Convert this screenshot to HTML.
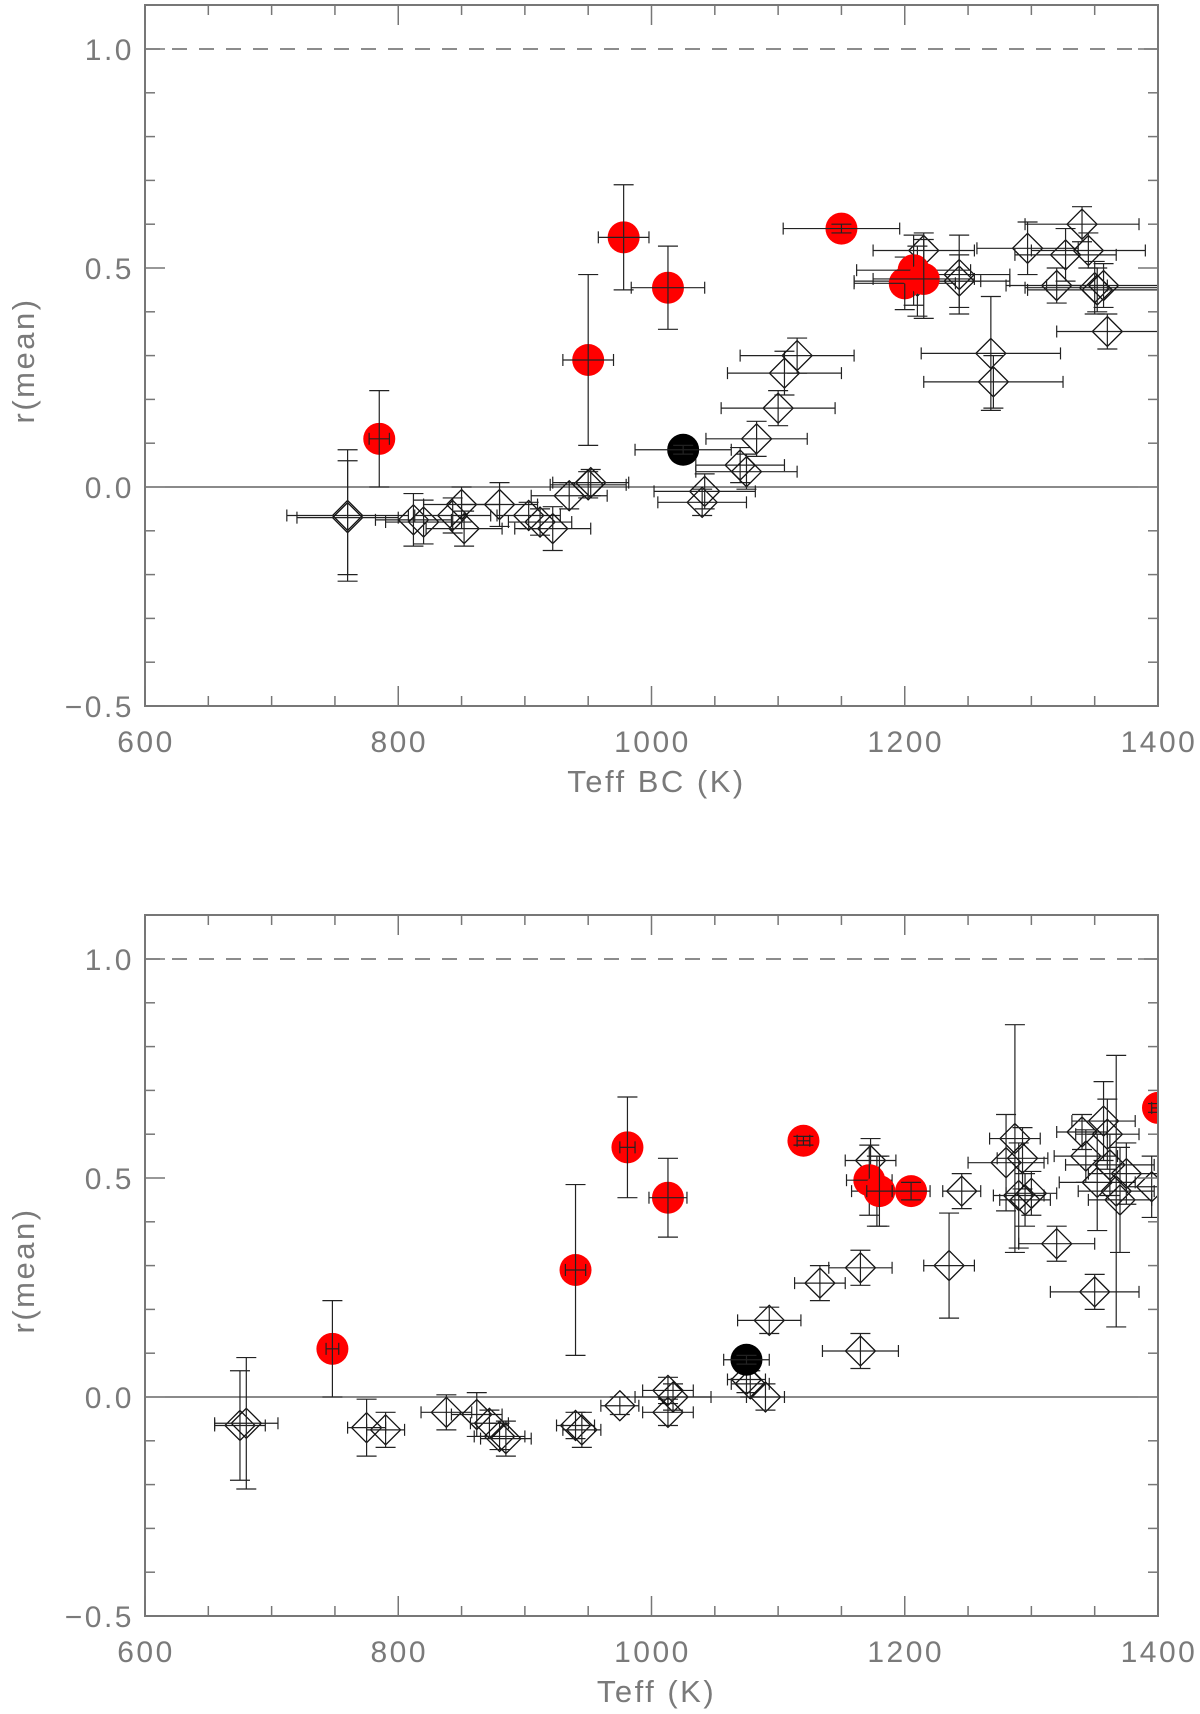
<!DOCTYPE html>
<html><head><meta charset="utf-8"><style>
html,body{margin:0;padding:0;background:#fff}
svg{display:block}
text{font-family:"Liberation Sans",sans-serif;fill:#7a7a7a;letter-spacing:2.5px}
</style></head><body>
<svg id="fig" width="1200" height="1714" viewBox="0 0 1200 1714"></svg>
<script>
// ---- data: top panel (Teff BC) ----
const topRedX=[785,950,978,1013,1150,1200,1207,1215];
const topRedY=[0.11,0.29,0.57,0.455,0.59,0.465,0.495,0.475];
const topRedXe=[8,20,20,29,46,40,45,40];
const topRedYe=[0.11,0.195,0.12,0.095,0.01,0.06,0.08,0.09];
const topBlkX=[1025];const topBlkY=[0.085];const topBlkXe=[38];const topBlkYe=[0.01];
const topDiaX=[760,760,812,820,843,850,852,880,903,912,922,935,950,952,1040,1042,1070,1075,1083,1100,1105,1115,1215,1210,1243,1243,1268,1270,1297,1320,1327,1340,1345,1350,1352,1360,1357];
const topDiaY=[-0.065,-0.07,-0.075,-0.08,-0.065,-0.04,-0.095,-0.04,-0.065,-0.08,-0.095,-0.02,0.005,0.01,-0.035,-0.01,0.05,0.035,0.11,0.18,0.26,0.30,0.54,0.47,0.485,0.47,0.305,0.24,0.545,0.46,0.53,0.60,0.54,0.455,0.45,0.355,0.46];
const topDiaXe=[48,40,30,30,30,30,30,30,25,25,30,30,30,30,35,40,35,40,40,45,45,45,40,50,40,40,55,55,40,40,40,45,45,55,55,40,45];
const topDiaYe=[0.15,0.13,0.06,0.05,0.04,0.04,0.04,0.05,0.03,0.03,0.05,0.03,0.03,0.03,0.03,0.04,0.04,0.04,0.04,0.04,0.05,0.04,0.04,0.08,0.09,0.06,0.13,0.06,0.06,0.04,0.06,0.04,0.04,0.06,0.05,0.04,0.05];
// ---- data: bottom panel (Teff) ----
const botRedX=[748,940,981,1013,1120,1172,1180,1205,1400];
const botRedY=[0.11,0.29,0.57,0.455,0.585,0.495,0.47,0.47,0.66];
const botRedXe=[5,8,6,15,5,18,10,15,5];
const botRedYe=[0.11,0.195,0.115,0.09,0.01,0.08,0.08,0.02,0.01];
const botBlkX=[1075];const botBlkY=[0.085];const botBlkXe=[18];const botBlkYe=[0.01];
const botDiaX=[675,680,775,790,838,862,872,880,885,940,945,975,1013,1013,1017,1075,1078,1090,1093,1133,1165,1165,1173,1178,1235,1245,1280,1287,1290,1293,1295,1300,1320,1340,1343,1350,1352,1357,1360,1362,1367,1370,1375,1395];
const botDiaY=[-0.065,-0.06,-0.07,-0.075,-0.035,-0.04,-0.06,-0.09,-0.095,-0.065,-0.075,-0.02,0.015,-0.035,0.0,0.04,0.03,0.0,0.175,0.26,0.295,0.105,0.54,0.47,0.30,0.47,0.535,0.59,0.46,0.545,0.45,0.465,0.35,0.605,0.55,0.24,0.49,0.63,0.60,0.53,0.47,0.45,0.51,0.48];
const botDiaXe=[20,25,15,15,20,20,15,20,20,15,15,15,20,20,30,15,15,15,25,20,25,30,20,20,20,15,30,20,20,20,20,20,30,20,25,35,30,25,25,35,30,25,30,20];
const botDiaYe=[0.125,0.15,0.065,0.04,0.04,0.05,0.03,0.03,0.04,0.03,0.04,0.02,0.03,0.03,0.03,0.03,0.03,0.03,0.03,0.04,0.04,0.04,0.05,0.08,0.12,0.04,0.11,0.26,0.12,0.07,0.06,0.05,0.04,0.04,0.06,0.04,0.11,0.09,0.08,0.07,0.31,0.12,0.07,0.07];
const xTicks=[600,800,1000,1200,1400];
const yTicks=[-0.5,0.0,0.5,1.0];
const yTickLabels=["\u22120.5","0.0","0.5","1.0"];

const NS="http://www.w3.org/2000/svg";
const svg=document.getElementById('fig');
function mk(tag,attrs,parent){const e=document.createElementNS(NS,tag);for(const k in attrs)e.setAttribute(k,attrs[k]);(parent||svg).appendChild(e);return e;}

function panel(cfg){
  const L=145,R=1158,top=cfg.top,y1=cfg.y1,per=438;
  const bottom=y1+1.5*per;
  const X=v=>L+(v-600)*(R-L)/800;
  const Y=v=>y1-(v-1)*per;
  const g=mk('g',{});
  
  
  const cid='clip'+cfg.name;
  const cp=mk('clipPath',{id:cid},g);mk('rect',{x:L,y:top,width:R-L,height:bottom-top},cp);
  const zl=mk('line',{x1:L,x2:R,y1:Y(0),y2:Y(0),stroke:'#444','stroke-width':1.2},g);
  
  const dl=mk('line',{x1:L,x2:R,y1:Y(1),y2:Y(1),stroke:'#666','stroke-width':1.5,'stroke-dasharray':'15,12'},g);
  
  const data=mk('g',{'clip-path':'url(#'+cid+')'},g);
  
  function err(x,y,xe,ye){
    const gg=mk('g',{stroke:'#222','stroke-width':1.2,fill:'none'},data);
    
    const cx=X(x),cy=Y(y),dx=xe*(R-L)/800,dy=ye*per;
    mk('line',{x1:cx-dx,x2:cx+dx,y1:cy,y2:cy},gg);
    mk('line',{x1:cx-dx,x2:cx-dx,y1:cy-6,y2:cy+6},gg);
    mk('line',{x1:cx+dx,x2:cx+dx,y1:cy-6,y2:cy+6},gg);
    mk('line',{x1:cx,x2:cx,y1:cy-dy,y2:cy+dy},gg);
    mk('line',{x1:cx-10,x2:cx+10,y1:cy-dy,y2:cy-dy},gg);
    mk('line',{x1:cx-10,x2:cx+10,y1:cy+dy,y2:cy+dy},gg);
  }
  cfg.dx.forEach((x,i)=>{
    const cx=X(x),cy=Y(cfg.dy[i]);
    const p=mk('polygon',{points:`${cx},${cy-15} ${cx+15},${cy} ${cx},${cy+15} ${cx-15},${cy}`,fill:'none',stroke:'#111','stroke-width':1.3},data);
    
    err(x,cfg.dy[i],cfg.dxe[i],cfg.dye[i]);
  });
  cfg.rx.forEach((x,i)=>{
    const c=mk('circle',{cx:X(x),cy:Y(cfg.ry[i]),r:16,fill:'#f00'},data);
    
    err(x,cfg.ry[i],cfg.rxe[i],cfg.rye[i]);
  });
  cfg.bx.forEach((x,i)=>{
    const c=mk('circle',{cx:X(x),cy:Y(cfg.by[i]),r:16,fill:'#000'},data);
    
    err(x,cfg.by[i],cfg.bxe[i],cfg.bye[i]);
  });
  const fr=mk('rect',{x:L,y:top,width:R-L,height:bottom-top,fill:'none',stroke:'#777','stroke-width':2},g);
  
  const tk=mk('g',{stroke:'#777','stroke-width':1.5},g);
  
  for(let v=600;v<=1400;v+=50){const len=(v%200===0)?20:10;const x=X(v);
    mk('line',{x1:x,x2:x,y1:bottom,y2:bottom-len},tk);mk('line',{x1:x,x2:x,y1:top,y2:top+len},tk);}
  for(let k=-5;k<=11;k++){const v=k/10;const len=(k%5===0)?20:10;const y=Y(v);
    mk('line',{x1:L,x2:L+len,y1:y,y2:y},tk);mk('line',{x1:R,x2:R-len,y1:y,y2:y},tk);}
  xTicks.forEach(v=>{const t=mk('text',{x:X(v)+1,y:bottom+46,'text-anchor':'middle','font-size':30},g);t.textContent=v;
    });
  yTicks.forEach((v,i)=>{const t=mk('text',{x:134,y:Y(v)+11,'text-anchor':'end','font-size':30},g);t.textContent=yTickLabels[i];
    });
  const xt=mk('text',{x:(L+R)/2+5,y:bottom+86,'text-anchor':'middle','font-size':31},g);xt.textContent=cfg.xtitle;
  
  const cy=(top+bottom)/2+5;
  const yt=mk('text',{x:0,y:0,'text-anchor':'middle','font-size':31,transform:`translate(34,${cy}) rotate(-90)`},g);yt.textContent='r(mean)';
  
}
panel({name:'top-panel',top:5,y1:49,xtitle:'Teff BC (K)',rx:topRedX,ry:topRedY,rxe:topRedXe,rye:topRedYe,bx:topBlkX,by:topBlkY,bxe:topBlkXe,bye:topBlkYe,dx:topDiaX,dy:topDiaY,dxe:topDiaXe,dye:topDiaYe});
panel({name:'bottom-panel',top:915,y1:959,xtitle:'Teff (K)',rx:botRedX,ry:botRedY,rxe:botRedXe,rye:botRedYe,bx:botBlkX,by:botBlkY,bxe:botBlkXe,bye:botBlkYe,dx:botDiaX,dy:botDiaY,dxe:botDiaXe,dye:botDiaYe});
</script>
</body></html>
